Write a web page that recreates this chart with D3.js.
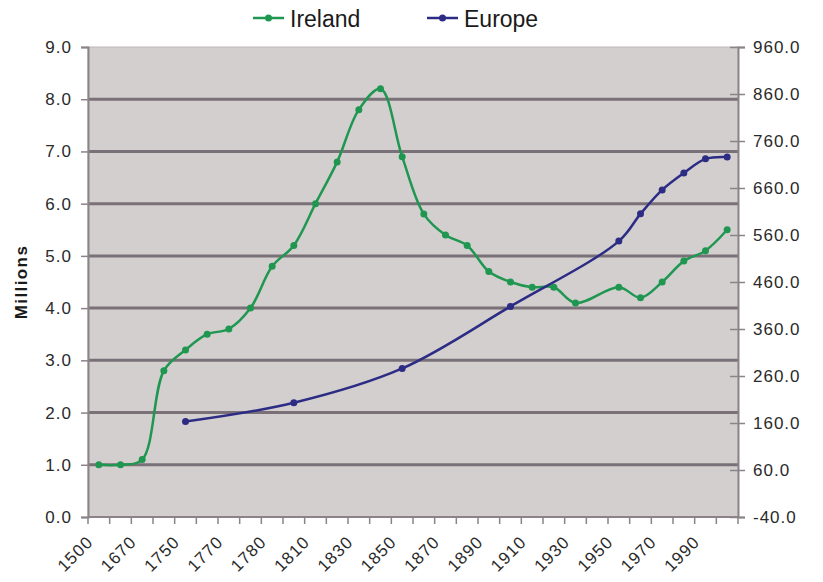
<!DOCTYPE html>
<html>
<head>
<meta charset="utf-8">
<script src="https://cdn.jsdelivr.net/npm/d3@7"></script>
<style>
	body { margin: 0; background: #fff; }
	svg { display: block; font-family: "Liberation Sans", Arial, sans-serif; }
</style>
</head>
<body>
<svg id="plot" width="823" height="582"></svg>
<script>
// category years on the x axis (every other one is labelled)
const YEARS = [1500, 1600, 1670, 1700, 1750, 1760, 1770, 1775, 1780, 1800,
	1810, 1820, 1830, 1840, 1850, 1860, 1870, 1880, 1890, 1900,
	1910, 1920, 1930, 1940, 1950, 1960, 1970, 1980, 1990, 2000];
const X_LABELS = ['1500', '1670', '1750', '1770', '1780', '1810', '1830', '1850',
	'1870', '1890', '1910', '1930', '1950', '1970', '1990'];
// Ireland population, millions (left axis); null = no value
const IRELAND = [1.0, 1.0, 1.1, 2.8, 3.2, 3.5, 3.6, 4.0, 4.8, 5.2,
	6.0, 6.8, 7.8, 8.2, 6.9, 5.8, 5.4, 5.2, 4.7, 4.5,
	4.4, 4.4, 4.1, null, 4.4, 4.2, 4.5, 4.9, 5.1, 5.5];
// Europe population, millions (right axis)
const EUROPE = [null, null, null, null, 163, null, null, null, null, 203,
	null, null, null, null, 276, null, null, null, null, 408,
	null, null, null, null, 547, 605, 656, 692, 722, 726];
const LEFT_TICKS = [0, 1, 2, 3, 4, 5, 6, 7, 8, 9];
const RIGHT_TICKS = [-40, 60, 160, 260, 360, 460, 560, 660, 760, 860, 960];

const PLOT = { left: 88, right: 738, top: 47, bottom: 517 };
const GREEN = '#1f9750';
const NAVY = '#2d2c85';
const AXIS_GREY = '#8b8389';

whenReady(() => {
	const svg = d3.select('#plot');

	const x = d3.scaleBand()
		.domain(YEARS)
		.range([PLOT.left, PLOT.right]);
	const yL = d3.scaleLinear().domain([0, 9]).range([PLOT.bottom, PLOT.top]);
	const yR = d3.scaleLinear().domain([-40, 960]).range([PLOT.bottom, PLOT.top]);
	const cx = d => x(d) + x.bandwidth() / 2;

	/* plot background */
	svg.append('rect')
		.attr('x', PLOT.left).attr('y', PLOT.top)
		.attr('width', PLOT.right - PLOT.left)
		.attr('height', PLOT.bottom - PLOT.top)
		.style('fill', '#d3cfcf')
		.style('stroke', '#bdb8b8')
		.style('stroke-width', 1);

	/* gridlines */
	svg.append('g').selectAll('line')
		.data(LEFT_TICKS.filter(v => v > 0 && v < 9))
		.enter().append('line')
		.attr('x1', PLOT.left).attr('x2', PLOT.right)
		.attr('y1', d => yL(d)).attr('y2', d => yL(d))
		.style('stroke', '#7a7077')
		.style('stroke-width', 3);

	/* left axis */
	const gL = svg.append('g')
		.attr('transform', `translate(${PLOT.left},0)`)
		.call(d3.axisLeft(yL).tickValues(LEFT_TICKS)
			.tickFormat(d => d.toFixed(1)).tickSize(7).tickPadding(9));
	styleAxis(gL);

	/* right axis */
	const gR = svg.append('g')
		.attr('transform', `translate(${PLOT.right},0)`)
		.call(d3.axisRight(yR).tickValues(RIGHT_TICKS)
			.tickFormat(d => d.toFixed(1)).tickSize(7).tickPadding(8));
	styleAxis(gR);
	gR.selectAll('.tick line').attr('x1', -8);

	/* bottom axis: ticks at category boundaries */
	svg.append('line')
		.attr('x1', PLOT.left).attr('x2', PLOT.right)
		.attr('y1', PLOT.bottom).attr('y2', PLOT.bottom)
		.style('stroke', AXIS_GREY).style('stroke-width', 2);
	svg.append('g').selectAll('line')
		.data(YEARS)
		.enter().append('line')
		.attr('x1', d => x(d) + x.bandwidth()).attr('x2', d => x(d) + x.bandwidth())
		.attr('y1', PLOT.bottom).attr('y2', PLOT.bottom + 7)
		.style('stroke', AXIS_GREY).style('stroke-width', 1.5);
	svg.append('line')
		.attr('x1', PLOT.left).attr('x2', PLOT.left)
		.attr('y1', PLOT.bottom).attr('y2', PLOT.bottom + 7)
		.style('stroke', AXIS_GREY).style('stroke-width', 1.5);

	const labelled = YEARS.filter((d, i) => i % 2 === 0);
	svg.append('g').selectAll('text')
		.data(labelled)
		.enter().append('text')
		.attr('transform', d => `translate(${cx(d) - 9},${PLOT.bottom + 22}) rotate(-45)`)
		.attr('text-anchor', 'end')
		.attr('dy', '0.35em')
		.style('font-size', '17px')
		.style('letter-spacing', '1px')
		.style('fill', '#2a2a2a')
		.text((d, i) => X_LABELS[i]);

	/* axis title */
	svg.append('text')
		.attr('transform', 'translate(27,282) rotate(-90)')
		.attr('text-anchor', 'middle')
		.style('font-size', '17px')
		.style('font-weight', 'bold')
		.style('letter-spacing', '1.4px')
		.style('fill', '#1a1a1a')
		.text('Millions');

	/* series */
	const ireland = IRELAND.map((v, i) => ({ year: YEARS[i], v: v })).filter(d => d.v !== null);
	const europe = EUROPE.map((v, i) => ({ year: YEARS[i], v: v })).filter(d => d.v !== null);

	drawSeries(svg, ireland, d => cx(d.year), d => yL(d.v), GREEN);
	drawSeries(svg, europe, d => cx(d.year), d => yR(d.v), NAVY);

	/* legend */
	const legend = [
		{ name: 'Ireland', color: GREEN, x: 253 },
		{ name: 'Europe', color: NAVY, x: 427 }
	];
	const lg = svg.append('g').selectAll('g')
		.data(legend)
		.enter().append('g')
		.attr('transform', d => `translate(${d.x},18)`);
	lg.append('line')
		.attr('x1', 0).attr('x2', 31)
		.style('stroke', d => d.color).style('stroke-width', 2.5);
	lg.append('circle')
		.attr('cx', 15.5).attr('r', 3.5)
		.style('fill', d => d.color);
	lg.append('text')
		.attr('x', 37).attr('y', 9)
		.style('font-size', '23px')
		.style('fill', '#1a1a1a')
		.text(d => d.name);
});

function styleAxis(g) {
	g.select('.domain').style('stroke', AXIS_GREY).style('stroke-width', 2);
	g.selectAll('.tick line').style('stroke', AXIS_GREY).style('stroke-width', 1.5);
	g.selectAll('.tick text')
		.style('font-size', '17px')
		.style('letter-spacing', '1px')
		.style('fill', '#2a2a2a');
}

function drawSeries(svg, data, fx, fy, color) {
	const line = d3.line().x(fx).y(fy).curve(d3.curveCatmullRom.alpha(0.5));
	svg.append('path')
		.datum(data)
		.attr('d', line)
		.style('fill', 'none')
		.style('stroke', color)
		.style('stroke-width', 2.5);
	svg.append('g').selectAll('circle')
		.data(data)
		.enter().append('circle')
		.attr('cx', fx).attr('cy', fy)
		.attr('r', 3.5)
		.style('fill', color);
}

function whenReady(action) {
	if (document.readyState === 'loading') {
		document.addEventListener('DOMContentLoaded', action);
	} else {
		action();
	}
}
</script>
</body>
</html>
